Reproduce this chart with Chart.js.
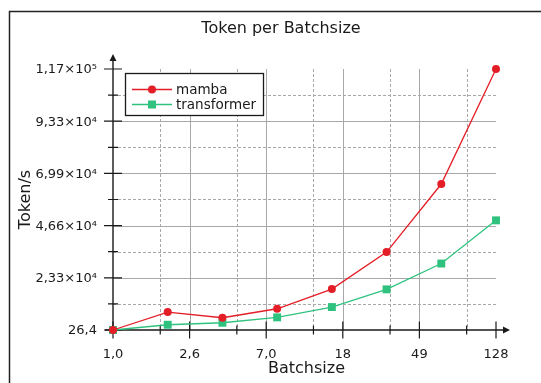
<!DOCTYPE html>
<html>
<head>
<meta charset="utf-8">
<script src="https://cdn.jsdelivr.net/npm/chart.js@4"></script>
<style>
  html, body { margin: 0; padding: 0; background: #fff; }
  canvas { display: block; }
</style>
</head>
<body>
<canvas id="tokenChart" width="541" height="383"></canvas>
<script>
// batch sizes and throughput (token/s)
var batchSizes = [1, 2, 4, 8, 16, 32, 64, 128];
var mambaTokens = [26.4, 8040, 5490, 9510, 18300, 34800, 65200, 116561];
var transformerTokens = [26.4, 2370, 3260, 5670, 10270, 18170, 29700, 48980];

// axis ticks (major ones are labelled)
var xTickValues = [1, 2.639, 6.964, 18.38, 48.50, 128];
var xTickLabels = ['1,0', '2,6', '7,0', '18', '49', '128'];
var yTickValues = [26.4, 23333.4, 46640.4, 69947.4, 93254.4, 116561];
var yTickLabels = ['26,4', '2,33×10⁴', '4,66×10⁴', '6,99×10⁴', '9,33×10⁴', '1,17×10⁵'];

var seriesNames = ['mamba', 'transformer'];
var chartTitle = 'Token per Batchsize';
var xTitle = 'Batchsize';
var yTitle = 'Token/s';

var RED = '#e41e26';
var GREEN = '#2fc27f';
var GRID = '#a8a8a8';
var INK = '#1a1a1a';
var FONT = '"DejaVu Sans", sans-serif';

// minor ticks sit half way between the major ones
function midpoints(vals) {
  var out = [];
  for (var i = 0; i < vals.length - 1; i++) out.push((vals[i] + vals[i + 1]) / 2);
  return out;
}

function toPoints(xs, ys) {
  return xs.map(function(x, i) { return { x: x, y: ys[i] }; });
}

var axesPlugin = {
  id: 'axesPlugin',
  beforeDatasetsDraw: function(chart) {
    var c = chart.ctx;
    var xs = chart.scales.x, ys = chart.scales.y;
    var a = chart.chartArea;
    var x0 = xs.getPixelForValue(xTickValues[0]);
    var y0 = ys.getPixelForValue(yTickValues[0]);
    var xMinor = midpoints(xTickValues);
    var yMinor = midpoints(yTickValues);
    c.save();

    // outer frame
    c.strokeStyle = '#222';
    c.lineWidth = 1.5;
    c.beginPath();
    c.moveTo(9.5, 383);
    c.lineTo(9.5, 11.5);
    c.lineTo(541, 11.5);
    c.stroke();

    // grid
    c.strokeStyle = GRID;
    c.lineWidth = 1;
    c.setLineDash([]);
    c.beginPath();
    xTickValues.slice(1, -1).forEach(function(v) {
      var px = Math.round(xs.getPixelForValue(v)) + 0.5;
      c.moveTo(px, a.top); c.lineTo(px, a.bottom);
    });
    yTickValues.slice(1, -1).forEach(function(v) {
      var py = Math.round(ys.getPixelForValue(v)) + 0.5;
      c.moveTo(a.left, py); c.lineTo(a.right, py);
    });
    c.stroke();
    c.setLineDash([3, 2]);
    c.beginPath();
    xMinor.forEach(function(v) {
      var px = Math.round(xs.getPixelForValue(v)) + 0.5;
      c.moveTo(px, a.top); c.lineTo(px, a.bottom);
    });
    yMinor.forEach(function(v) {
      var py = Math.round(ys.getPixelForValue(v)) + 0.5;
      c.moveTo(a.left, py); c.lineTo(a.right, py);
    });
    c.stroke();
    c.setLineDash([]);

    // axis lines with arrow heads
    c.strokeStyle = INK;
    c.fillStyle = INK;
    c.lineWidth = 1.4;
    c.beginPath();
    c.moveTo(x0, y0 + 3); c.lineTo(x0, a.top - 10);
    c.moveTo(x0 - 8, y0); c.lineTo(a.right + 10, y0);
    c.stroke();
    c.beginPath();
    c.moveTo(x0, a.top - 15); c.lineTo(x0 - 3.5, a.top - 8); c.lineTo(x0 + 3.5, a.top - 8); c.closePath();
    c.moveTo(a.right + 14, y0); c.lineTo(a.right + 7, y0 - 3.5); c.lineTo(a.right + 7, y0 + 3.5); c.closePath();
    c.fill();

    // tick marks
    c.lineWidth = 1.2;
    c.beginPath();
    xTickValues.forEach(function(v) {
      var px = xs.getPixelForValue(v);
      c.moveTo(px, y0 - 8.5); c.lineTo(px, y0 + 8.5);
    });
    xMinor.forEach(function(v) {
      var px = xs.getPixelForValue(v);
      c.moveTo(px, y0 - 4.5); c.lineTo(px, y0 + 4.5);
    });
    yTickValues.forEach(function(v) {
      var py = ys.getPixelForValue(v);
      c.moveTo(x0 - 9, py); c.lineTo(x0 + 9, py);
    });
    yMinor.forEach(function(v) {
      var py = ys.getPixelForValue(v);
      c.moveTo(x0 - 5, py); c.lineTo(x0 + 5, py);
    });
    c.stroke();

    // tick labels
    c.font = '13px ' + FONT;
    c.textBaseline = 'alphabetic';
    c.textAlign = 'center';
    xTickValues.forEach(function(v, i) {
      c.fillText(xTickLabels[i], xs.getPixelForValue(v), 358);
    });
    c.textAlign = 'right';
    c.textBaseline = 'middle';
    yTickValues.forEach(function(v, i) {
      c.fillText(yTickLabels[i], 97, ys.getPixelForValue(v) + 1);
    });

    // titles
    c.font = '16px ' + FONT;
    c.textAlign = 'center';
    c.textBaseline = 'alphabetic';
    c.fillText(chartTitle, 281, 33);
    c.fillText(xTitle, (a.left + a.right) / 2 + 2, 373);
    c.save();
    c.translate(30, (a.top + a.bottom) / 2);
    c.rotate(-Math.PI / 2);
    c.fillText(yTitle, 0, 0);
    c.restore();

    c.restore();
  },
  afterDatasetsDraw: function(chart) {
    var c = chart.ctx;
    c.save();
    // legend box
    c.fillStyle = '#fff';
    c.fillRect(125, 73, 138, 42);
    c.strokeStyle = INK;
    c.lineWidth = 1.3;
    c.strokeRect(125.5, 73.5, 138, 42);
    var rows = [89.5, 104.5];
    chart.data.datasets.forEach(function(ds, i) {
      var y = rows[i];
      c.strokeStyle = ds.borderColor;
      c.fillStyle = ds.borderColor;
      c.lineWidth = 1.3;
      c.beginPath();
      c.moveTo(132, y); c.lineTo(172, y);
      c.stroke();
      if (ds.pointStyle === 'rect') {
        c.fillRect(148, y - 4, 8, 8);
      } else {
        c.beginPath();
        c.arc(152, y, 4, 0, Math.PI * 2);
        c.fill();
      }
      c.fillStyle = INK;
      c.font = '13.5px ' + FONT;
      c.textAlign = 'left';
      c.textBaseline = 'middle';
      c.fillText(seriesNames[i], 176, y + 1);
    });
    c.restore();
  }
};

var ctx = document.getElementById('tokenChart').getContext('2d');
var tokenChart = new Chart(ctx, {
  type: 'line',
  data: {
    datasets: [{
      label: seriesNames[0],
      data: toPoints(batchSizes, mambaTokens),
      borderColor: RED,
      backgroundColor: RED,
      borderWidth: 1.3,
      pointStyle: 'circle',
      pointRadius: 4,
      pointBorderWidth: 0,
      pointBackgroundColor: RED,
      clip: false
    }, {
      label: seriesNames[1],
      data: toPoints(batchSizes, transformerTokens),
      borderColor: GREEN,
      backgroundColor: GREEN,
      borderWidth: 1.3,
      pointStyle: 'rect',
      pointRadius: 5.6,
      pointBorderWidth: 0,
      pointBackgroundColor: GREEN,
      clip: false
    }]
  },
  options: {
    responsive: false,
    animation: false,
    devicePixelRatio: 1,
    layout: { padding: { left: 113, top: 69, right: 45, bottom: 53 } },
    scales: {
      x: { type: 'logarithmic', min: 1, max: 128, display: false },
      y: { type: 'linear', min: yTickValues[0], max: yTickValues[yTickValues.length - 1], display: false }
    },
    plugins: {
      legend: { display: false },
      title: { display: false },
      tooltip: { enabled: false }
    }
  },
  plugins: [axesPlugin]
});
</script>
</body>
</html>
